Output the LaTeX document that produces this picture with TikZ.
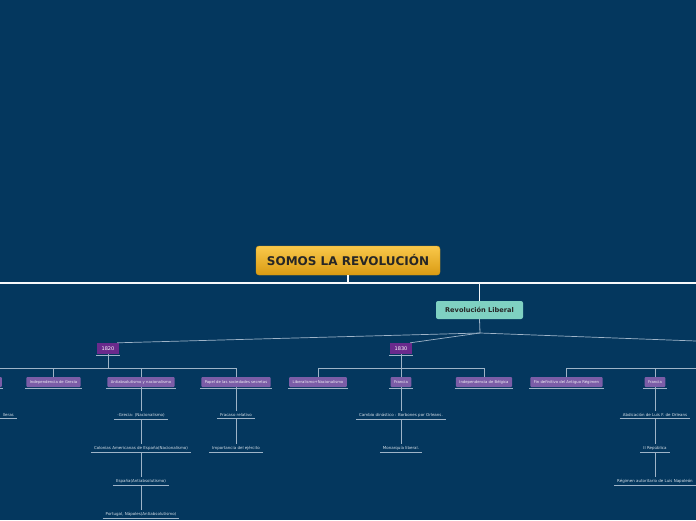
\documentclass[tikz,border=0pt]{standalone}
\usepackage{fontspec}
\setmainfont{DejaVu Sans}
\usetikzlibrary{positioning}
\definecolor{fondo}{HTML}{04375E}
\definecolor{orotop}{HTML}{F9C84B}
\definecolor{orobot}{HTML}{DA9B13}
\definecolor{menta}{HTML}{7FD1C2}
\definecolor{uva}{HTML}{6A2A8C}
\definecolor{lila}{HTML}{7B5DA7}
\definecolor{linea}{HTML}{9FB4C8}
\definecolor{letra}{HTML}{D8E1EA}
\tikzset{
  raiz/.style={rounded corners=3pt, top color=orotop, bottom color=orobot, draw=orobot,
    minimum width=184pt, minimum height=29pt, text=black!85,
    font=\fontsize{12}{13}\selectfont\bfseries},
  rama/.style={rounded corners=2pt, fill=menta, minimum width=87pt, minimum height=18pt,
    text=black!85, font=\fontsize{6.6}{7.5}\selectfont\bfseries},
  anio/.style={fill=uva, minimum width=22pt, minimum height=11pt, inner sep=0pt,
    text=white, font=\fontsize{5}{6}\selectfont},
  hijo/.style={rounded corners=1pt, fill=lila, minimum height=10pt, inner xsep=3.5pt,
    inner ysep=0pt, text=white!90!lila, font=\fontsize{3.8}{4.5}\selectfont},
  hoja/.style={inner xsep=3pt, inner ysep=2pt, text=letra, font=\fontsize{4}{4.6}\selectfont},
  conector/.style={draw=linea, line width=0.8pt},
  subrayado/.style={draw=linea, line width=0.7pt}
}
\begin{document}
\begin{tikzpicture}[x=1pt,y=-1pt]
\fill[fondo] (0,0) rectangle (696,520);
\useasboundingbox (0,0) rectangle (696,520);
\clip (0,0) rectangle (696,520);

% nodos principales
\node[raiz] (raiz) at (348,260.5) {SOMOS LA REVOLUCIÓN};
\node[rama] (revlib) at (479.5,310) {Revolución Liberal};
\node[anio] (y1820) at (108,348.5) {1820};
\node[anio] (y1830) at (401,348.5) {1830};

% hijos
\node[hijo, anchor=east, minimum width=20pt] (izq) at (2,382) {};
\node[hijo] (grecia) at (53.5,382) {Independencia de Grecia};
\node[hijo] (antiabs) at (141,382) {Antiabsolutismo y nacionalismo};
\node[hijo] (papel) at (236,382) {Papel de las sociedades secretas};
\node[hijo] (libnac) at (318,382) {Liberalismo+Nacionalismo};
\node[hijo] (francia) at (401,382) {Francia};
\node[hijo] (belgica) at (484,382) {Independencia de Bélgica};
\node[hijo] (fin) at (566.5,382) {Fin definitivo del Antiguo Régimen};
\node[hijo] (franciab) at (655,382) {Francia};

% hojas
\node[hoja, anchor=east] (h0) at (17,415) {lleras};
\node[hoja] (a1) at (141,415) {-Grecia: (Nacionalismo)};
\node[hoja] (a2) at (141,448) {Colonias Americanas de España(Nacionalismo)};
\node[hoja] (a3) at (141,481) {España(Antiabsolutismo)};
\node[hoja] (a4) at (141,514) {Portugal, Nápoles(Antiabsolutismo)};
\node[hoja] (p1) at (236,415) {Fracaso relativo};
\node[hoja] (p2) at (236,448) {Importancia del ejército};
\node[hoja] (f1) at (401,415) {Cambio dinástico : Borbones por Orleans.};
\node[hoja] (f2) at (401,448) {Monarquía liberal.};
\node[hoja] (b1) at (655,415) {Abdicación de Luis F. de Orleans};
\node[hoja] (b2) at (655,448) {II República};
\node[hoja] (b3) at (655,481) {Régimen autoritario de Luis Napoleón};

% conectores
\coordinate (ejeizq) at (0,283);
\coordinate (ejeder) at (696,283);
\coordinate (abanico) at (480,333);
\coordinate (fuera) at (696,341);
\draw[white!92!linea, line width=1.6pt] (ejeizq) -- (ejeder);
\draw[white!92!linea, line width=1.6pt] (raiz.south) -- (raiz.south |- ejeizq);
\draw[white!85!linea, line width=1.2pt] (revlib.north |- ejeizq) -- (revlib.north);
\draw[conector] (revlib.south) -- (abanico);
\draw[linea, line width=0.7pt] (abanico) -- ([xshift=-2pt]y1820.north east);
\draw[linea, line width=0.7pt] (abanico) -- ([xshift=-2pt]y1830.north east);
\draw[linea, line width=0.7pt] (abanico) -- (fuera);

\coordinate (bus1) at (0,368);
\draw[conector] (y1820.south) -- (y1820.south |- bus1);
\draw[conector] (bus1) -- (papel.north |- bus1);
\foreach \n in {grecia,antiabs,papel}
  \draw[conector] (\n.north |- bus1) -- (\n.north);

\coordinate (bus2) at (0,368);
\draw[conector] (y1830.south) -- (y1830.south |- bus2);
\draw[conector] (libnac.north |- bus2) -- (belgica.north |- bus2);
\foreach \n in {libnac,francia,belgica}
  \draw[conector] (\n.north |- bus2) -- (\n.north);

\coordinate (bus3) at (696,368);
\draw[conector] (fin.north |- bus3) -- (bus3);
\foreach \n in {fin,franciab}
  \draw[conector] (\n.north |- bus3) -- (\n.north);

\draw[conector] (antiabs.south) -- (a1.north);
\draw[conector] (a1.south) -- (a2.north);
\draw[conector] (a2.south) -- (a3.north);
\draw[conector] (a3.south) -- (a4.north);
\draw[conector] (papel.south) -- (p1.north);
\draw[conector] (p1.south) -- (p2.north);
\draw[conector] (francia.south) -- (f1.north);
\draw[conector] (f1.south) -- (f2.north);
\draw[conector] (franciab.south) -- (b1.north);
\draw[conector] (b1.south) -- (b2.north);
\draw[conector] (b2.south) -- (b3.north);

% subrayados
\foreach \n in {h0,a1,a2,a3,a4,p1,p2,f1,f2,b1,b2,b3}
  \draw[subrayado] (\n.south west) -- (\n.south east);
\foreach \n in {y1820,y1830,izq,grecia,antiabs,papel,libnac,francia,belgica,fin,franciab}
  \draw[linea, line width=0.6pt] ([shift={(-1pt,-0.8pt)}]\n.south west) -- ([shift={(1pt,-0.8pt)}]\n.south east);
\end{tikzpicture}
\end{document}
